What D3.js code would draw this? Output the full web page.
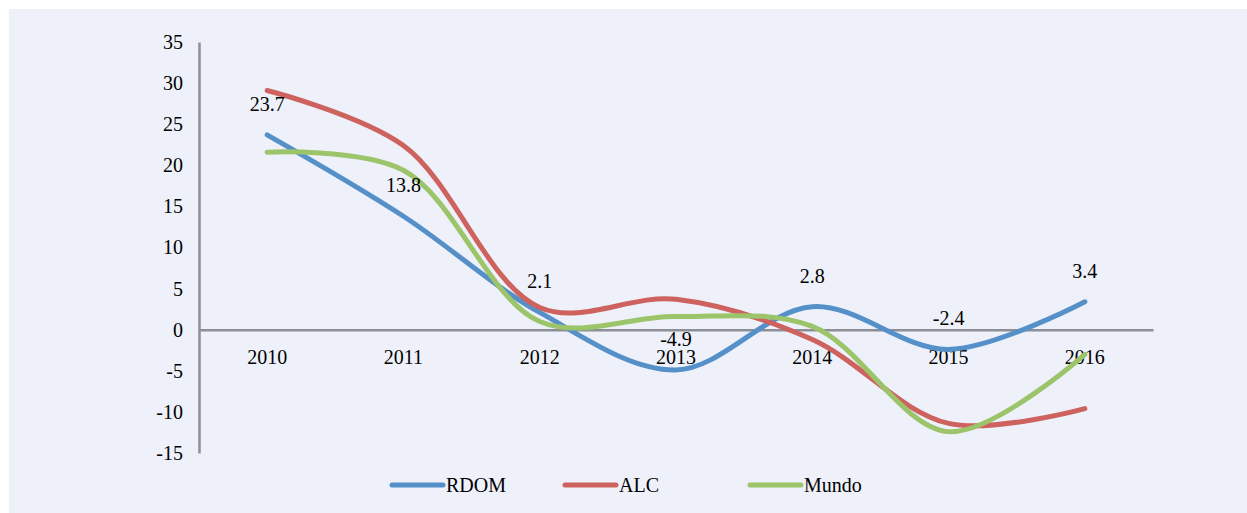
<!DOCTYPE html>
<html>
<head>
<meta charset="utf-8">
<script src="https://cdn.jsdelivr.net/npm/d3@7"></script>
<style>
  body { margin: 0; background: #fff; }
  text { font-family: "Liberation Serif", "Times New Roman", serif; }
</style>
</head>
<body>
<script>
// chart data
const years = ["2010", "2011", "2012", "2013", "2014", "2015", "2016"];
const rdom  = [23.7, 13.8, 2.1, -4.9, 2.8, -2.4, 3.4];
const alc   = [29.1, 22.4, 2.7, 3.7, -1.2, -11.4, -9.6];
const mundo = [21.6, 19.4, 1.0, 1.6, 0.4, -12.4, -3.0];
const yTicks = [-15, -10, -5, 0, 5, 10, 15, 20, 25, 30, 35];
const seriesNames = ["RDOM", "ALC", "Mundo"];

const W = 1247, H = 513;
const colors = ["#5690c8", "#cd625e", "#9cc46a"];

const svg = d3.select("body").append("svg")
    .attr("width", W)
    .attr("height", H);

// background
svg.append("rect")
    .attr("x", 9).attr("y", 9)
    .attr("width", W - 9).attr("height", H - 9)
    .attr("fill", "#eef1f9");

const x = d3.scaleBand().domain(years).range([199, 1153]);
const y = d3.scaleLinear().domain([-15, 35]).range([453, 42]);

// y axis (plain hyphen for negatives, like the original)
const yAxis = svg.append("g")
    .attr("transform", "translate(199,0)")
    .call(d3.axisLeft(y).tickValues(yTicks).tickFormat(d => String(d))
        .tickSize(0).tickPadding(16));
yAxis.select(".domain").attr("stroke", "#8c8f94").attr("stroke-width", 2.5);
yAxis.selectAll("text").attr("font-size", 20).attr("fill", "#000")
    .style("font-family", "Liberation Serif");

// x axis on zero line
const xAxis = svg.append("g")
    .attr("transform", `translate(0,${y(0)})`)
    .call(d3.axisBottom(x).tickSize(0).tickPadding(20));
xAxis.select(".domain").attr("stroke", "#8c8f94").attr("stroke-width", 2.5);
xAxis.selectAll("text").attr("font-size", 20).attr("fill", "#000")
    .style("font-family", "Liberation Serif");

const cx = d => x(d) + x.bandwidth() / 2;

const line = d3.line()
    .x((d, i) => cx(years[i]))
    .y(d => y(d))
    .curve(d3.curveCatmullRom.alpha(0.5));

[rdom, alc, mundo].forEach((s, i) => {
    svg.append("path")
        .datum(s)
        .attr("d", line)
        .attr("fill", "none")
        .attr("stroke", colors[i])
        .attr("stroke-width", 5)
        .attr("stroke-linecap", "round");
});

// data labels for RDOM
svg.selectAll(".lbl")
    .data(rdom)
    .enter()
    .append("text")
    .attr("class", "lbl")
    .attr("x", (d, i) => cx(years[i]))
    .attr("y", d => y(d) - 24)
    .attr("text-anchor", "middle")
    .attr("font-size", 20)
    .text(d => String(d));

// legend
const legendX = [392, 565, 750];
seriesNames.forEach((n, i) => {
    svg.append("line")
        .attr("x1", legendX[i]).attr("x2", legendX[i] + 51)
        .attr("y1", 485).attr("y2", 485)
        .attr("stroke", colors[i])
        .attr("stroke-width", 5)
        .attr("stroke-linecap", "round");
    svg.append("text")
        .attr("x", legendX[i] + 54)
        .attr("y", 492)
        .attr("font-size", 20)
        .text(n);
});
</script>
</body>
</html>
